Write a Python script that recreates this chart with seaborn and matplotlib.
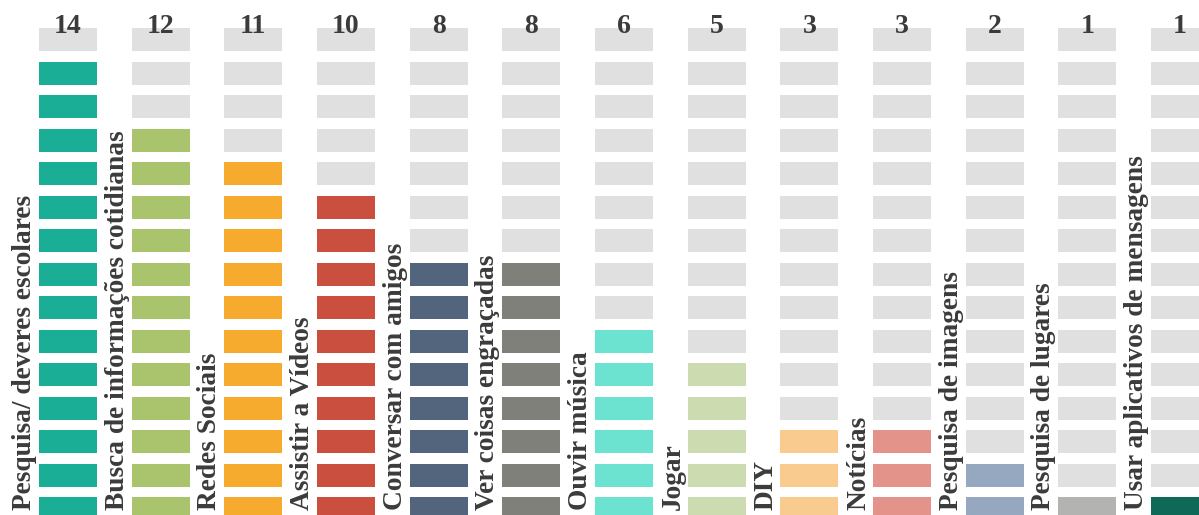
import numpy as np
import pandas as pd
import matplotlib
matplotlib.use("Agg")
import matplotlib.pyplot as plt
import seaborn as sns

categories = ["Pesquisa/ deveres escolares", "Busca de informações cotidianas", "Redes Sociais",
              "Assistir a Vídeos", "Conversar com amigos", "Ver coisas engraçadas", "Ouvir música",
              "Jogar", "DIY", "Notícias", "Pesquisa de imagens", "Pesquisa de lugares",
              "Usar aplicativos de mensagens"]
values = [14, 12, 11, 10, 8, 8, 6, 5, 3, 3, 2, 1, 1]
colors = ["#1aae96", "#a9c46d", "#f6aa2e", "#cb4f3e", "#53657c", "#80807b", "#6ce3d1",
          "#cddcb0", "#f9cb8f", "#e4938b", "#96a8bf", "#b3b3b1", "#0e6a57"]
empty_color = "#e0e0e0"
n_rows = 15
text_color = "#3b3b3b"

sns.set_theme(style="white")
plt.rcParams["font.family"] = ["Liberation Serif", "DejaVu Serif"]

fig = plt.figure(figsize=(11.99, 5.15), dpi=100)
ax = fig.add_axes([0, 0, 1, 1])

palette = {c: col for c, col in zip(categories, colors)}
palette["empty"] = empty_color

cell_w = 58 / 92.67
cell_h = 23 / 33.5

for r in range(n_rows):
    df = pd.DataFrame({
        "cat": categories,
        "h": [cell_h] * len(categories),
        "key": [c if v > r else "empty" for c, v in zip(categories, values)],
    })
    sns.barplot(data=df, x="cat", y="h", hue="key", palette=palette, order=categories,
                hue_order=list(palette.keys()), dodge=False, width=cell_w, errorbar=None,
                legend=False, bottom=r, linewidth=0, saturation=1, ax=ax)

for i, (c, v) in enumerate(zip(categories, values)):
    ax.text(i, 14 + 18 / 33.5, str(v), ha="center", va="baseline", fontsize=20,
            fontweight="bold", color=text_color)
    ax.text(i - cell_w / 2 - 2 / 92.67, 10 / 33.5, c, rotation=90, ha="right", va="bottom",
            fontsize=19.7, fontweight="bold", color=text_color)

ax.set_xlim(-68 / 92.67, 12 + 19 / 92.67)
ax.set_ylim(5 / 33.5, 14 + 51 / 33.5)
ax.axis("off")

fig.savefig("out.png", dpi=100)
